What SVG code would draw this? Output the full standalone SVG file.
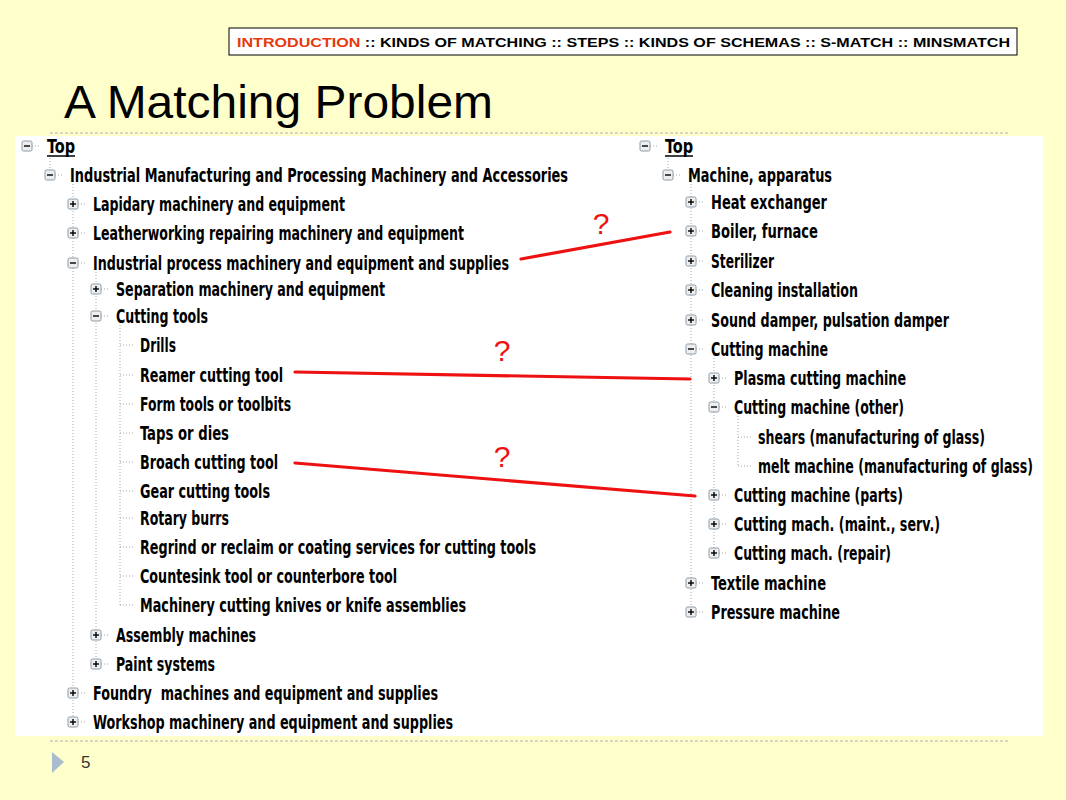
<svg xmlns="http://www.w3.org/2000/svg" width="1066" height="800" viewBox="0 0 1066 800">
<style>
.t{font-family:"Liberation Sans Narrow","DejaVu Sans Condensed","Liberation Sans",sans-serif;font-weight:bold;font-size:19px;fill:#000}
.dot{stroke:#a8a8a8;stroke-width:1;stroke-dasharray:1 2;fill:none}
.box{fill:#eeeeee;stroke:#8a9aaa;stroke-width:1}
.sign{stroke:#000;stroke-width:1.4}
.red{stroke:#ee1111;stroke-width:3.2;fill:none;stroke-linecap:round}
.q{font-family:"Liberation Sans",Arial,sans-serif;font-size:30px;fill:#ee1111;text-anchor:middle}
</style>
<defs>
<g id="plus"><rect class="box" x="-5" y="-5" width="10" height="10" rx="1.5"/><line class="sign" x1="-3" y1="0" x2="3" y2="0"/><line class="sign" x1="0" y1="-3" x2="0" y2="3"/></g>
<g id="minus"><rect class="box" x="-5" y="-5" width="10" height="10" rx="1.5"/><line class="sign" x1="-3" y1="0" x2="3" y2="0"/></g>
</defs>
<rect x="0" y="0" width="1066" height="800" fill="#ffffcc"/>
<g id="header">
<rect x="229" y="28" width="788" height="27" fill="#ffffff" stroke="#000" stroke-width="1"/>
<text x="237" y="47" font-family="Liberation Sans,Arial,sans-serif" font-weight="bold" font-size="13.5" textLength="773" lengthAdjust="spacingAndGlyphs"><tspan fill="#e8380d">INTRODUCTION</tspan><tspan fill="#000"> :: KINDS OF MATCHING :: STEPS :: KINDS OF SCHEMAS :: S-MATCH :: MINSMATCH</tspan></text>
</g>
<text id="title" x="64" y="118" font-family="Liberation Sans,Arial,sans-serif" font-size="47" fill="#000" textLength="429" lengthAdjust="spacingAndGlyphs">A Matching Problem</text>
<line x1="50" y1="133" x2="1010" y2="133" stroke="#b0b0b0" stroke-dasharray="3 2"/>
<rect x="15" y="136" width="1028" height="600" fill="#ffffff"/>
<line x1="50" y1="741" x2="1010" y2="741" stroke="#b0b0b0" stroke-dasharray="3 2"/>
<g id="footer">
<polygon points="52,752 64,762 52,773" fill="#a9bccf"/>
<text x="81" y="768" font-family="Liberation Sans,Arial,sans-serif" font-size="17" fill="#333">5</text>
</g>
<g id="tree-lines">
<line class="dot" x1="50" y1="152" x2="50" y2="170"/>
<line class="dot" x1="73" y1="181" x2="73" y2="722"/>
<line class="dot" x1="96" y1="269" x2="96" y2="664"/>
<line class="dot" x1="120" y1="322" x2="120" y2="605"/>
<line class="dot" x1="32" y1="146" x2="40" y2="146"/>
<line class="dot" x1="55" y1="175" x2="63" y2="175"/>
<g class="dot">
<line x1="78" y1="204" x2="86" y2="204"/><line x1="78" y1="233" x2="86" y2="233"/><line x1="78" y1="263" x2="86" y2="263"/>
<line x1="78" y1="693" x2="86" y2="693"/><line x1="78" y1="722" x2="86" y2="722"/>
<line x1="101" y1="289" x2="109" y2="289"/><line x1="101" y1="316" x2="109" y2="316"/><line x1="101" y1="635" x2="109" y2="635"/><line x1="101" y1="664" x2="109" y2="664"/>
<line x1="120" y1="345" x2="133" y2="345"/><line x1="120" y1="375" x2="133" y2="375"/><line x1="120" y1="404" x2="133" y2="404"/><line x1="120" y1="433" x2="133" y2="433"/><line x1="120" y1="462" x2="133" y2="462"/><line x1="120" y1="491" x2="133" y2="491"/><line x1="120" y1="518" x2="133" y2="518"/><line x1="120" y1="547" x2="133" y2="547"/><line x1="120" y1="576" x2="133" y2="576"/><line x1="120" y1="605" x2="133" y2="605"/>
</g>
<line class="dot" x1="668" y1="152" x2="668" y2="170"/>
<line class="dot" x1="691" y1="181" x2="691" y2="612"/>
<line class="dot" x1="714" y1="355" x2="714" y2="553"/>
<line class="dot" x1="738" y1="413" x2="738" y2="466"/>
<g class="dot">
<line x1="650" y1="146" x2="658" y2="146"/><line x1="673" y1="175" x2="681" y2="175"/>
<line x1="696" y1="202" x2="704" y2="202"/><line x1="696" y1="231" x2="704" y2="231"/><line x1="696" y1="261" x2="704" y2="261"/><line x1="696" y1="290" x2="704" y2="290"/><line x1="696" y1="320" x2="704" y2="320"/><line x1="696" y1="349" x2="704" y2="349"/><line x1="696" y1="583" x2="704" y2="583"/><line x1="696" y1="612" x2="704" y2="612"/>
<line x1="719" y1="378" x2="727" y2="378"/><line x1="719" y1="407" x2="727" y2="407"/><line x1="719" y1="495" x2="727" y2="495"/><line x1="719" y1="524" x2="727" y2="524"/><line x1="719" y1="553" x2="727" y2="553"/>
<line x1="738" y1="437" x2="751" y2="437"/><line x1="738" y1="466" x2="751" y2="466"/>
</g>
</g>
<g id="left-tree">
<g id="l-top"><use href="#minus" x="27" y="146"/><text class="t" x="47" y="153" textLength="28" lengthAdjust="spacingAndGlyphs">Top</text><line x1="47" y1="156" x2="75" y2="156" stroke="#000" stroke-width="1.5"/></g>
<g id="l-imm"><use href="#minus" x="50" y="175"/><text class="t" x="70" y="182" textLength="498" lengthAdjust="spacingAndGlyphs">Industrial Manufacturing and Processing Machinery and Accessories</text></g>
<g id="l-lap"><use href="#plus" x="73" y="204"/><text class="t" x="93" y="211" textLength="252" lengthAdjust="spacingAndGlyphs">Lapidary machinery and equipment</text></g>
<g id="l-lea"><use href="#plus" x="73" y="233"/><text class="t" x="93" y="240" textLength="371" lengthAdjust="spacingAndGlyphs">Leatherworking repairing machinery and equipment</text></g>
<g id="l-ipm"><use href="#minus" x="73" y="263"/><text class="t" x="93" y="270" textLength="416" lengthAdjust="spacingAndGlyphs">Industrial process machinery and equipment and supplies</text></g>
<g id="l-sep"><use href="#plus" x="96" y="289"/><text class="t" x="116" y="296" textLength="269" lengthAdjust="spacingAndGlyphs">Separation machinery and equipment</text></g>
<g id="l-cut"><use href="#minus" x="96" y="316"/><text class="t" x="116" y="323" textLength="92" lengthAdjust="spacingAndGlyphs">Cutting tools</text></g>
<g id="l-dri"><text class="t" x="140" y="352" textLength="36" lengthAdjust="spacingAndGlyphs">Drills</text></g>
<g id="l-rea"><text class="t" x="140" y="382" textLength="143" lengthAdjust="spacingAndGlyphs">Reamer cutting tool</text></g>
<g id="l-for"><text class="t" x="140" y="411" textLength="151" lengthAdjust="spacingAndGlyphs">Form tools or toolbits</text></g>
<g id="l-tap"><text class="t" x="140" y="440" textLength="89" lengthAdjust="spacingAndGlyphs">Taps or dies</text></g>
<g id="l-bro"><text class="t" x="140" y="469" textLength="138" lengthAdjust="spacingAndGlyphs">Broach cutting tool</text></g>
<g id="l-gea"><text class="t" x="140" y="498" textLength="130" lengthAdjust="spacingAndGlyphs">Gear cutting tools</text></g>
<g id="l-rot"><text class="t" x="140" y="525" textLength="89" lengthAdjust="spacingAndGlyphs">Rotary burrs</text></g>
<g id="l-reg"><text class="t" x="140" y="554" textLength="396" lengthAdjust="spacingAndGlyphs">Regrind or reclaim or coating services for cutting tools</text></g>
<g id="l-cou"><text class="t" x="140" y="583" textLength="257" lengthAdjust="spacingAndGlyphs">Countesink tool or counterbore tool</text></g>
<g id="l-mac"><text class="t" x="140" y="612" textLength="326" lengthAdjust="spacingAndGlyphs">Machinery cutting knives or knife assemblies</text></g>
<g id="l-ass"><use href="#plus" x="96" y="635"/><text class="t" x="116" y="642" textLength="140" lengthAdjust="spacingAndGlyphs">Assembly machines</text></g>
<g id="l-pai"><use href="#plus" x="96" y="664"/><text class="t" x="116" y="671" textLength="99" lengthAdjust="spacingAndGlyphs">Paint systems</text></g>
<g id="l-fou"><use href="#plus" x="73" y="693"/><text class="t" x="93" y="700" textLength="345" lengthAdjust="spacingAndGlyphs" xml:space="preserve">Foundry  machines and equipment and supplies</text></g>
<g id="l-wor"><use href="#plus" x="73" y="722"/><text class="t" x="93" y="729" textLength="360" lengthAdjust="spacingAndGlyphs">Workshop machinery and equipment and supplies</text></g>
</g>
<g id="right-tree">
<g id="r-top"><use href="#minus" x="645" y="146"/><text class="t" x="665" y="153" textLength="28" lengthAdjust="spacingAndGlyphs">Top</text><line x1="665" y1="156" x2="693" y2="156" stroke="#000" stroke-width="1.5"/></g>
<g id="r-mac"><use href="#minus" x="668" y="175"/><text class="t" x="688" y="182" textLength="144" lengthAdjust="spacingAndGlyphs">Machine, apparatus</text></g>
<g id="r-hea"><use href="#plus" x="691" y="202"/><text class="t" x="711" y="209" textLength="116" lengthAdjust="spacingAndGlyphs">Heat exchanger</text></g>
<g id="r-boi"><use href="#plus" x="691" y="231"/><text class="t" x="711" y="238" textLength="107" lengthAdjust="spacingAndGlyphs">Boiler, furnace</text></g>
<g id="r-ste"><use href="#plus" x="691" y="261"/><text class="t" x="711" y="268" textLength="63" lengthAdjust="spacingAndGlyphs">Sterilizer</text></g>
<g id="r-cle"><use href="#plus" x="691" y="290"/><text class="t" x="711" y="297" textLength="147" lengthAdjust="spacingAndGlyphs">Cleaning installation</text></g>
<g id="r-sou"><use href="#plus" x="691" y="320"/><text class="t" x="711" y="327" textLength="238" lengthAdjust="spacingAndGlyphs">Sound damper, pulsation damper</text></g>
<g id="r-cut"><use href="#minus" x="691" y="349"/><text class="t" x="711" y="356" textLength="117" lengthAdjust="spacingAndGlyphs">Cutting machine</text></g>
<g id="r-pla"><use href="#plus" x="714" y="378"/><text class="t" x="734" y="385" textLength="172" lengthAdjust="spacingAndGlyphs">Plasma cutting machine</text></g>
<g id="r-oth"><use href="#minus" x="714" y="407"/><text class="t" x="734" y="414" textLength="170" lengthAdjust="spacingAndGlyphs">Cutting machine (other)</text></g>
<g id="r-she"><text class="t" x="758" y="444" textLength="227" lengthAdjust="spacingAndGlyphs">shears (manufacturing of glass)</text></g>
<g id="r-mel"><text class="t" x="758" y="473" textLength="275" lengthAdjust="spacingAndGlyphs">melt machine (manufacturing of glass)</text></g>
<g id="r-par"><use href="#plus" x="714" y="495"/><text class="t" x="734" y="502" textLength="169" lengthAdjust="spacingAndGlyphs">Cutting machine (parts)</text></g>
<g id="r-mai"><use href="#plus" x="714" y="524"/><text class="t" x="734" y="531" textLength="206" lengthAdjust="spacingAndGlyphs">Cutting mach. (maint., serv.)</text></g>
<g id="r-rep"><use href="#plus" x="714" y="553"/><text class="t" x="734" y="560" textLength="157" lengthAdjust="spacingAndGlyphs">Cutting mach. (repair)</text></g>
<g id="r-tex"><use href="#plus" x="691" y="583"/><text class="t" x="711" y="590" textLength="115" lengthAdjust="spacingAndGlyphs">Textile machine</text></g>
<g id="r-pre"><use href="#plus" x="691" y="612"/><text class="t" x="711" y="619" textLength="129" lengthAdjust="spacingAndGlyphs">Pressure machine</text></g>
</g>
<g id="connectors">
<line class="red" x1="521" y1="259" x2="670" y2="232"/>
<line class="red" x1="295" y1="372" x2="690" y2="379"/>
<line class="red" x1="295" y1="463" x2="695" y2="496"/>
<text class="q" x="601" y="234">?</text>
<text class="q" x="502" y="361">?</text>
<text class="q" x="502" y="467">?</text>
</g>
</svg>
